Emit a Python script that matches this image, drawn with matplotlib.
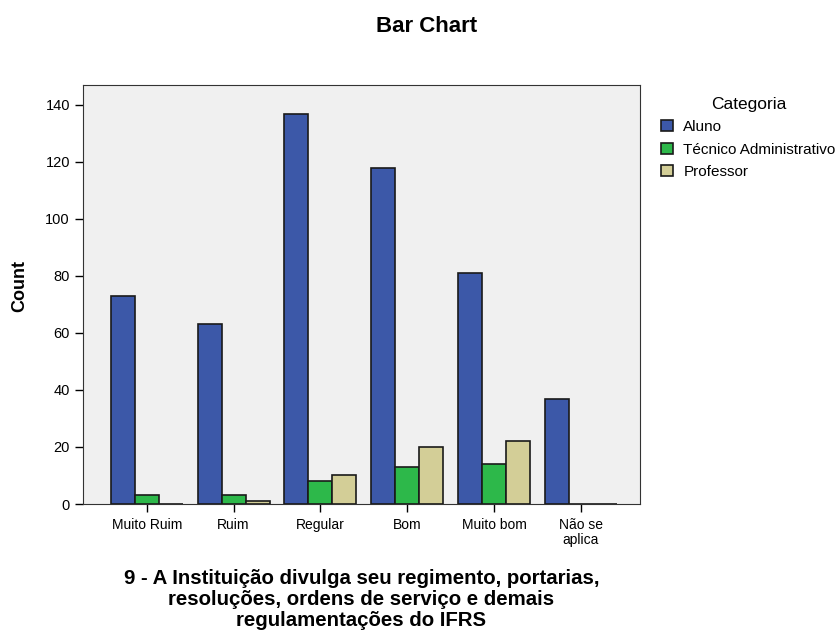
import matplotlib
matplotlib.use("Agg")
import matplotlib.pyplot as plt
import numpy as np

plt.rcParams['font.family'] = ['Liberation Sans', 'DejaVu Sans']

categories = ["Muito Ruim", "Ruim", "Regular", "Bom", "Muito bom", "Não se\naplica"]
series_names = ["Aluno", "Técnico Administrativo", "Professor"]
aluno = [73, 63, 137, 118, 81, 37]
tecnico = [3, 3, 8, 13, 14, 0]
professor = [0, 1, 10, 20, 22, 0]
colors = ["#3C58A8", "#2DB84A", "#D3CE97"]

fig = plt.figure(figsize=(8.35, 6.3), dpi=100)
ax = fig.add_axes([82.5 / 835, 1 - 504 / 630, (640 - 82.5) / 835, (504 - 85) / 630])
ax.set_facecolor("#F0F0F0")

x = np.arange(len(categories))
w = 0.276
for i, (vals, name, c) in enumerate(zip([aluno, tecnico, professor], series_names, colors)):
    ax.bar(x + (i - 1) * w, vals, width=w, color=c, edgecolor="#1a1a1a", linewidth=1.2,
           label=name, zorder=3)

ax.set_xlim(-0.74, 5.68)
ax.set_ylim(0, 147)
ax.set_yticks(range(0, 141, 20))
ax.set_xticks(x)
ax.set_xticklabels(categories, fontsize=10, linespacing=1.1)
ax.tick_params(axis='y', labelsize=10.5, length=6, width=1, pad=3)
ax.tick_params(axis='x', length=6, width=1, pad=4)
for s in ax.spines.values():
    s.set_color("#333333")
    s.set_linewidth(0.8)

ax.set_ylabel("Count", fontsize=13, fontweight='bold')
ax.yaxis.set_label_coords(-0.097, 0.52)
fig.text((82.5 + 640) / 2 / 835, 1 - 569 / 630,
         "9 - A Instituição divulga seu regimento, portarias,\nresoluções, ordens de serviço e demais\nregulamentações do IFRS",
         fontsize=14.7, fontweight='bold', ha='center', va='top', linespacing=1.14)
fig.text(0.511, 1 - 27 / 630, "Bar Chart", fontsize=16, fontweight='bold', ha='center', va='center')

leg = ax.legend(title="Categoria", loc="upper left", bbox_to_anchor=(1.038, 0.972),
                frameon=False, fontsize=11, title_fontsize=12.5, handlelength=0.75,
                handleheight=0.75, borderaxespad=0.0, labelspacing=0.55, handletextpad=0.7,
                borderpad=0.0)

fig.savefig("out.png", dpi=100, facecolor="white")
